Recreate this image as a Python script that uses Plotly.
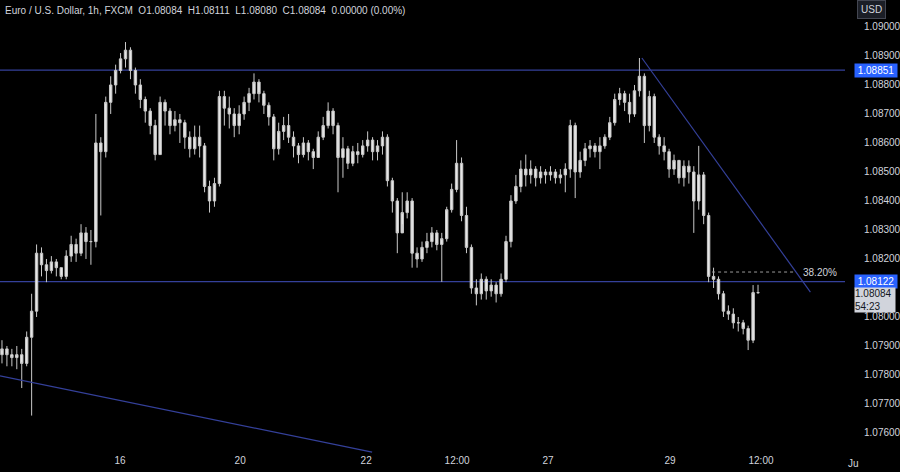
import plotly.graph_objects as go

# ---------------- data (EUR/USD, 1h; ~2h per bar) ----------------
open_first = 1.0787
closes = [
    1.0789, 1.0787, 1.0786, 1.0787, 1.0784, 1.0793, 1.0802, 1.0822, 1.0818, 1.0816,
    1.0819, 1.0817, 1.0814, 1.0821, 1.0825, 1.0822, 1.0829, 1.0826, 1.0826, 1.0860,
    1.0857, 1.0874, 1.0880, 1.0885, 1.0889, 1.0892, 1.0885, 1.0880, 1.0875, 1.0871,
    1.0866, 1.0856, 1.0874, 1.0871, 1.0866, 1.0868, 1.0867, 1.0862, 1.0858, 1.0862,
    1.0859, 1.0845, 1.0840, 1.0846, 1.0876, 1.0872, 1.0870, 1.0866, 1.0870, 1.0874,
    1.0877, 1.0881, 1.0877, 1.0873, 1.0869, 1.0858, 1.0864, 1.0866, 1.0862, 1.0859,
    1.0856, 1.0860, 1.0857, 1.0855, 1.0862, 1.0866, 1.0871, 1.0866, 1.0855, 1.0858,
    1.0853, 1.0857, 1.0856, 1.0859, 1.0861, 1.0857, 1.0859, 1.0862, 1.0847, 1.0840,
    1.0829, 1.0836, 1.0840, 1.0822, 1.0820, 1.0824, 1.0826, 1.0829, 1.0825, 1.0827,
    1.0837, 1.0844, 1.0853, 1.0835, 1.0824, 1.0810, 1.0808, 1.0813, 1.0809, 1.0811,
    1.0808, 1.0813, 1.0826, 1.0840, 1.0845, 1.0851, 1.0849, 1.0851, 1.0848, 1.0850,
    1.0849, 1.0850, 1.0848, 1.0849, 1.0851, 1.0866, 1.0850, 1.0854, 1.0858, 1.0859,
    1.0857, 1.0859, 1.0862, 1.0867, 1.0875, 1.0877, 1.0874, 1.0870, 1.0878, 1.0883,
    1.0866, 1.0876, 1.0862, 1.0859, 1.0857, 1.0851, 1.0854, 1.0848, 1.0852, 1.0850,
    1.0840, 1.0849, 1.0835, 1.0814, 1.0813, 1.0808, 1.0802, 1.0801, 1.0798, 1.0798,
    1.0796, 1.0792, 1.08084, 1.08084,
]
highs = [
    1.0792, 1.0790, 1.0789, 1.0790, 1.0789, 1.0795, 1.0808, 1.0825, 1.0824, 1.0820,
    1.0821, 1.0820, 1.0817, 1.0823, 1.0828, 1.0827, 1.0832, 1.0831, 1.0830, 1.0870,
    1.0862, 1.0876, 1.0883, 1.0887, 1.0891, 1.08948, 1.0893, 1.0886, 1.0882, 1.0876,
    1.0872, 1.0868, 1.0876, 1.0875, 1.0872, 1.0871, 1.0870, 1.0868, 1.0864, 1.0866,
    1.0866, 1.0860, 1.0847, 1.0848, 1.0878, 1.0878, 1.0876, 1.0872, 1.0873, 1.0876,
    1.0879, 1.0884, 1.0882, 1.0878, 1.0874, 1.0870, 1.0867, 1.0869, 1.0870, 1.0864,
    1.0860, 1.0862, 1.0861, 1.0858, 1.0864, 1.0869, 1.0874, 1.0872, 1.0867, 1.0862,
    1.0859, 1.0859, 1.0860, 1.0861, 1.0864, 1.0862, 1.0861, 1.0864, 1.0863, 1.0848,
    1.0841, 1.0843, 1.0843, 1.0841, 1.0824, 1.0826, 1.0829, 1.0831, 1.0830, 1.0829,
    1.0838, 1.0846, 1.0861, 1.0855, 1.0838, 1.0825, 1.0813, 1.0815, 1.0814, 1.0813,
    1.0812, 1.0815, 1.0828, 1.0842, 1.0849, 1.0854, 1.0856, 1.0854, 1.0852, 1.0852,
    1.0851, 1.0852, 1.0851, 1.0851, 1.0853, 1.0868, 1.0867, 1.0857, 1.0860, 1.0861,
    1.0860, 1.0862, 1.0863, 1.0869, 1.0877, 1.0879, 1.0878, 1.0877, 1.0880, 1.08893,
    1.0884, 1.0878, 1.0877, 1.0863, 1.0862, 1.0858, 1.0856, 1.0851, 1.0854, 1.0854,
    1.0852, 1.0859, 1.0850, 1.0836, 1.0817, 1.0814, 1.0809, 1.0804, 1.0803, 1.0800,
    1.0799, 1.0797, 1.0811, 1.08111,
]
lows = [
    1.0784, 1.0783, 1.0783, 1.0782, 1.07755, 1.0783, 1.0766, 1.0800, 1.0814, 1.0812,
    1.0815, 1.0814, 1.0813, 1.0813, 1.0819, 1.0819, 1.0821, 1.0820, 1.0818, 1.0824,
    1.0835, 1.0855, 1.0870, 1.0877, 1.0884, 1.0886, 1.0882, 1.0877, 1.0872, 1.0867,
    1.0863, 1.0854, 1.0856, 1.0866, 1.0863, 1.0864, 1.0860, 1.0858, 1.0855, 1.0856,
    1.0855, 1.0843, 1.0836, 1.0838, 1.0845, 1.0866, 1.0865, 1.0862, 1.0863, 1.0868,
    1.0871, 1.0875, 1.0874, 1.0870, 1.0866, 1.0854, 1.0856, 1.0861, 1.0860, 1.0855,
    1.0853, 1.0855, 1.0854, 1.0851, 1.0855, 1.0861, 1.0865, 1.0863, 1.0843, 1.0848,
    1.0851, 1.0852, 1.0853, 1.0855, 1.0857, 1.0854, 1.0854, 1.0856, 1.0845, 1.0836,
    1.0822, 1.0832, 1.0834, 1.0817, 1.0817, 1.0819, 1.0822, 1.0824, 1.0823, 1.08121,
    1.0826, 1.0836, 1.0843, 1.0833, 1.0822, 1.0808, 1.0804, 1.0806, 1.0806, 1.0807,
    1.0805, 1.0807, 1.0812, 1.0824, 1.0839, 1.0843, 1.0845, 1.0846, 1.0845, 1.0846,
    1.0846, 1.0847, 1.0846, 1.0846, 1.0843, 1.0848, 1.0841, 1.0848, 1.0852, 1.0855,
    1.0855, 1.0851, 1.0858, 1.0861, 1.0866, 1.0873, 1.0871, 1.0867, 1.0869, 1.0876,
    1.0860, 1.0864, 1.0860, 1.0856, 1.0854, 1.0848, 1.0849, 1.0846, 1.0845, 1.0846,
    1.0829, 1.0837, 1.0832, 1.0812, 1.0810, 1.0806, 1.0800, 1.0799, 1.0796, 1.0795,
    1.0794, 1.07886, 1.0791, 1.08080,
]
opens = [open_first] + closes[:-1]
bars = list(range(len(closes)))

x_tick_pos = [23.9, 48.2, 73.7, 92.1, 110.5, 135.2, 153.6]
x_tick_labels = ["16", "20", "22", "12:00", "27", "29", "12:00"]
y_ticks = [1.076, 1.077, 1.078, 1.079, 1.080, 1.082, 1.083, 1.084, 1.085,
           1.086, 1.087, 1.088, 1.089, 1.090]
y_tick_labels = ["%.5f" % v for v in y_ticks]

resistance = 1.08851
support = 1.08122
fib_level = 1.08155
last_price = 1.08084
down_trend = ([129.5, 163.6], [1.08893, 1.08086])
low_trend = ([-0.4, 74.9], [1.07797, 1.07534])
fib_span = [143.7, 160.5]

# ---------------- figure ----------------
TXT = "#d1d4dc"
LINE = "#34409a"
FONT = "Liberation Sans, Arial, sans-serif"
FS = 10

fig = go.Figure()
fig.add_trace(go.Candlestick(
    x=bars, open=opens, high=highs, low=lows, close=closes,
    increasing=dict(line=dict(color="#c9c9c9", width=1), fillcolor="#e6e6e6"),
    decreasing=dict(line=dict(color="#c9c9c9", width=1), fillcolor="#e6e6e6"),
    whiskerwidth=0, showlegend=False, hoverinfo="skip",
))
fig.add_trace(go.Scatter(x=down_trend[0], y=down_trend[1], mode="lines",
                         line=dict(color=LINE, width=1.2), showlegend=False, hoverinfo="skip"))
fig.add_trace(go.Scatter(x=low_trend[0], y=low_trend[1], mode="lines",
                         line=dict(color=LINE, width=1.2), showlegend=False, hoverinfo="skip"))
fig.add_trace(go.Scatter(x=fib_span, y=[fib_level, fib_level], mode="lines",
                         line=dict(color="#9a9a9a", width=1, dash="dot"),
                         showlegend=False, hoverinfo="skip"))

for lvl in (resistance, support):
    fig.add_shape(type="line", xref="paper", x0=0, x1=1, yref="y", y0=lvl, y1=lvl,
                  line=dict(color=LINE, width=1.2), layer="below")

ann = []
ann.append(dict(x=fib_span[1], y=fib_level, xref="x", yref="y", text="38.20%",
                showarrow=False, xanchor="left", xshift=6,
                font=dict(color=TXT, size=FS, family=FONT)))
for lvl in (resistance, support):
    ann.append(dict(x=1, y=lvl, xref="paper", yref="y", text="%.5f" % lvl,
                    showarrow=False, xanchor="left", xshift=9, width=40,
                    bgcolor="#2962ff", borderpad=1,
                    font=dict(color="#ffffff", size=FS, family=FONT)))
ann.append(dict(x=1, y=last_price, xref="paper", yref="y", text="1.08084<br>54:23",
                showarrow=False, xanchor="left", yanchor="top", xshift=9, yshift=6,
                bgcolor="#d1d4dc", borderpad=0, align="left", width=40,
                font=dict(color="#131722", size=FS, family=FONT)))
ann.append(dict(x=1, y=1, xref="paper", yref="paper", text="USD", showarrow=False,
                xanchor="left", yanchor="top", xshift=12, yshift=0,
                bgcolor="#1b1e26", bordercolor="#434651", borderwidth=1, borderpad=3,
                font=dict(color=TXT, size=FS, family=FONT)))
ann.append(dict(x=1, y=0, xref="paper", yref="paper", text="Ju", showarrow=False,
                xanchor="left", yanchor="top", xshift=1, yshift=-3,
                font=dict(color=TXT, size=FS, family=FONT)))
ann.append(dict(x=0, y=1, xref="paper", yref="paper",
                text="Euro / U.S. Dollar, 1h, FXCM  O1.08084  H1.08111  L1.08080  C1.08084  0.00000 (0.00%)",
                showarrow=False, xanchor="left", yanchor="top", xshift=3, yshift=-3,
                font=dict(color=TXT, size=FS, family=FONT)))

fig.update_layout(
    width=900, height=472,
    margin=dict(l=0, r=55, t=0, b=19, autoexpand=False),
    paper_bgcolor="#000000", plot_bgcolor="#000000",
    font=dict(family=FONT, color=TXT, size=FS),
    annotations=ann,
    xaxis=dict(range=[-0.4, 170.6], tickmode="array", tickvals=x_tick_pos,
               ticktext=x_tick_labels, showgrid=False, zeroline=False,
               rangeslider=dict(visible=False), ticks="", showline=False,
               automargin=False, tickfont=dict(color=TXT, size=FS, family=FONT)),
    yaxis=dict(range=[1.07531, 1.09093], side="right", tickmode="array",
               tickvals=y_ticks, ticktext=y_tick_labels, showgrid=False,
               zeroline=False, ticks="outside", ticklen=16, tickcolor="rgba(0,0,0,0)",
               showline=False, automargin=False,
               tickfont=dict(color=TXT, size=FS, family=FONT)),
    hovermode=False,
)

fig.write_html("out.html", config={"displayModeBar": False, "staticPlot": True},
               post_script="document.body.style.margin='0px';document.body.style.background='#000';")
